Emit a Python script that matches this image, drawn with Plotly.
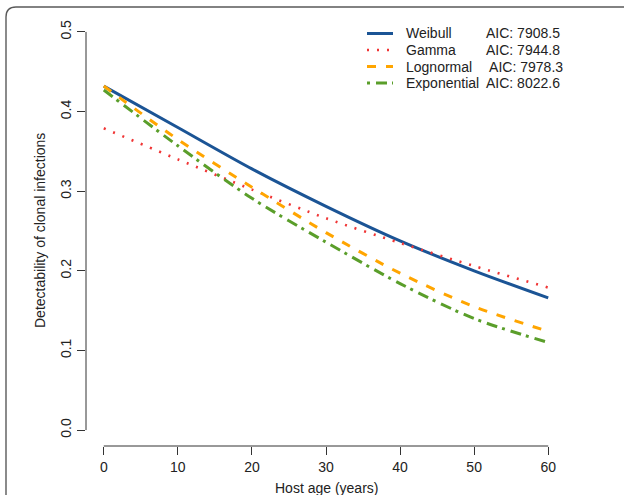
import plotly.graph_objects as go

# ---- data ----
age = [0, 10, 20, 30, 40, 50, 60]
weibull = [0.432, 0.380, 0.328, 0.281, 0.2376, 0.200, 0.166]
gamma = [0.379, 0.340, 0.302, 0.266, 0.235, 0.206, 0.179]
lognormal = [0.432, 0.365, 0.305, 0.248, 0.197, 0.155, 0.124]
exponential = [0.427, 0.357, 0.291, 0.236, 0.184, 0.140, 0.110]

model_names = ["Weibull", "Gamma", "Lognormal", "Exponential"]
aic_labels = ["AIC: 7908.5", "AIC: 7944.8", " AIC: 7978.3", "AIC: 8022.6"]
x_ticks = [0, 10, 20, 30, 40, 50, 60]
y_ticks = [0.0, 0.1, 0.2, 0.3, 0.4, 0.5]
y_tick_text = ["0.0", "0.1", "0.2", "0.3", "0.4", "0.5"]

series = [weibull, gamma, lognormal, exponential]
colors = ["#1B5495", "#F03535", "#FFA500", "#5A9E2A"]
dashes = ["solid", "2px,8px", "9px,10px", "11px,5px,3px,6px"]
key_dashes = ["solid", "2px,8px", "9px,10px", "3px,6px,11px,5px"]
widths = [3, 2.6, 3, 3]

W, H = 624, 495
L, R, T, B = 86, 58, 16, 49
FONT = "Liberation Sans, Arial, Helvetica, sans-serif"
INK = "#222222"
FS = 14


def px(x):
    return (x - L) / (W - L - R)


def py(y):
    return (H - B - y) / (H - T - B)


fig = go.Figure()
for name, ys, c, d, w in zip(model_names, series, colors, dashes, widths):
    fig.add_trace(go.Scatter(
        x=age, y=ys, mode="lines", name=name,
        line=dict(color=c, width=w, dash=d, shape="spline", smoothing=0.8),
        showlegend=False, hoverinfo="skip"))

shapes = []
# rounded outer frame (closed path extending past the right/bottom edges)
r = 10
fx0, fy0, fx1, fy1 = 6, 7, W + 30, H + 30
path = (f"M {px(fx0)} {py(fy1)} L {px(fx0)} {py(fy0 + r)} "
        f"Q {px(fx0)} {py(fy0)} {px(fx0 + r)} {py(fy0)} "
        f"L {px(fx1)} {py(fy0)} L {px(fx1)} {py(fy1)} Z")
shapes.append(dict(type="path", xref="paper", yref="paper", path=path,
                   layer="below", line=dict(color="#5a5a5a", width=1.4)))

# axis lines spanning the tick range (R style)
shapes.append(dict(type="line", xref="paper", yref="y", x0=0, x1=0,
                   y0=y_ticks[0], y1=y_ticks[-1], line=dict(color="#333", width=1)))
shapes.append(dict(type="line", xref="x", yref="paper", x0=x_ticks[0], x1=x_ticks[-1],
                   y0=0, y1=0, line=dict(color="#333", width=1)))

# legend keys and texts
rows_y = [33.5, 50, 66.5, 83]
annotations = []
for i, (name, aic) in enumerate(zip(model_names, aic_labels)):
    yy = py(rows_y[i])
    shapes.append(dict(type="line", xref="paper", yref="paper",
                       x0=px(367), x1=px(393), y0=yy, y1=yy,
                       line=dict(color=colors[i], width=widths[i], dash=key_dashes[i])))
    annotations.append(dict(xref="paper", yref="paper", x=px(404), y=yy, text=name,
                            showarrow=False, xanchor="left", yanchor="middle",
                            font=dict(family=FONT, size=FS, color=INK)))
    annotations.append(dict(xref="paper", yref="paper", x=px(484), y=yy, text=aic,
                            showarrow=False, xanchor="left", yanchor="middle",
                            font=dict(family=FONT, size=FS, color=INK)))

# axis titles
annotations.append(dict(xref="paper", yref="paper", x=px(326), y=py(488),
                        text="Host age (years)", showarrow=False,
                        xanchor="center", yanchor="middle",
                        font=dict(family=FONT, size=FS, color=INK)))
annotations.append(dict(xref="paper", yref="paper", x=px(40), y=py(231),
                        text="Detectability of clonal infections", showarrow=False,
                        textangle=-90, xanchor="center", yanchor="middle",
                        font=dict(family=FONT, size=FS, color=INK)))

fig.update_layout(
    width=W, height=H,
    margin=dict(l=L, r=R, t=T, b=B, autoexpand=False),
    paper_bgcolor="white", plot_bgcolor="rgba(0,0,0,0)",
    shapes=shapes, annotations=annotations,
    xaxis=dict(range=[-2.4, 62.4], tickvals=x_ticks, ticks="outside", ticklen=8,
               tickcolor="#333", showgrid=False, zeroline=False, showline=False,
               tickfont=dict(family=FONT, size=FS, color=INK)),
    yaxis=dict(range=[-0.02, 0.52], tickvals=y_ticks, ticktext=y_tick_text,
               ticks="outside", ticklen=8, tickcolor="#333", tickangle=-90,
               showgrid=False, zeroline=False, showline=False,
               tickfont=dict(family=FONT, size=FS, color=INK)),
)

fig.write_html("out.html", config={"displayModeBar": False},
               post_script="document.body.style.margin='0';document.body.style.overflow='hidden';")
